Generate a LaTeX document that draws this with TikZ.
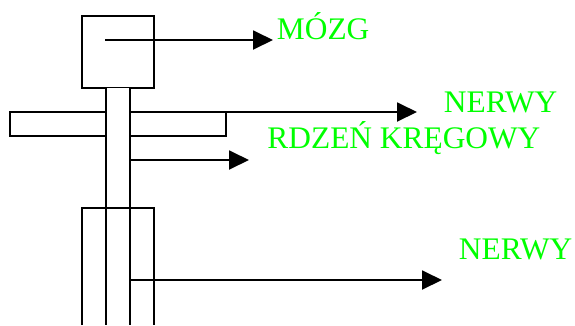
\documentclass[tikz,border=0pt]{standalone}
\usepackage{fontspec}
\setmainfont{Liberation Serif}
\usetikzlibrary{arrows.meta}
\definecolor{jasnozielony}{RGB}{0,255,0}
\begin{document}
\begin{tikzpicture}[x=1pt,y=-1pt,line width=1.9pt,
  strzalka/.style={-{Triangle[length=20pt,width=19pt]}},
  napis/.style={anchor=base west,inner sep=0pt,text=jasnozielony,
    font=\fontsize{31.4}{36}\selectfont}]
\useasboundingbox (0,0) rectangle (575,325);

% glowa
\draw (82,16) rectangle (154,88);
% rece
\draw (10,112) rectangle (226,136);
% rdzen
\fill[white] (106,88) rectangle (130,325);
\draw (106,88) -- (106,325);
\draw (130,88) -- (130,325);
% tulow
\draw (82,325) -- (82,208) -- (154,208) -- (154,325);

\node[napis] (mozg) at (276,39) {MÓZG};
\node[napis] (nerwy1) at (443,112) {NERWY};
\node[napis] (rdzen) at (266.5,148) {RDZEŃ KRĘGOWY};
\node[napis] (nerwy2) at (458,259) {NERWY};

\coordinate (m0) at (105,40);
\coordinate (m1) at (273,40);
\coordinate (n0) at (202,112);
\coordinate (n1) at (417,112);
\coordinate (r0) at (130,160);
\coordinate (r1) at (249,160);
\coordinate (d0) at (130,280);
\coordinate (d1) at (442,280);

\draw[strzalka] (m0) -- (m1);
\draw[strzalka] (n0) -- (n1);
\draw[strzalka] (r0) -- (r1);
\draw[strzalka] (d0) -- (d1);
\end{tikzpicture}
\end{document}
